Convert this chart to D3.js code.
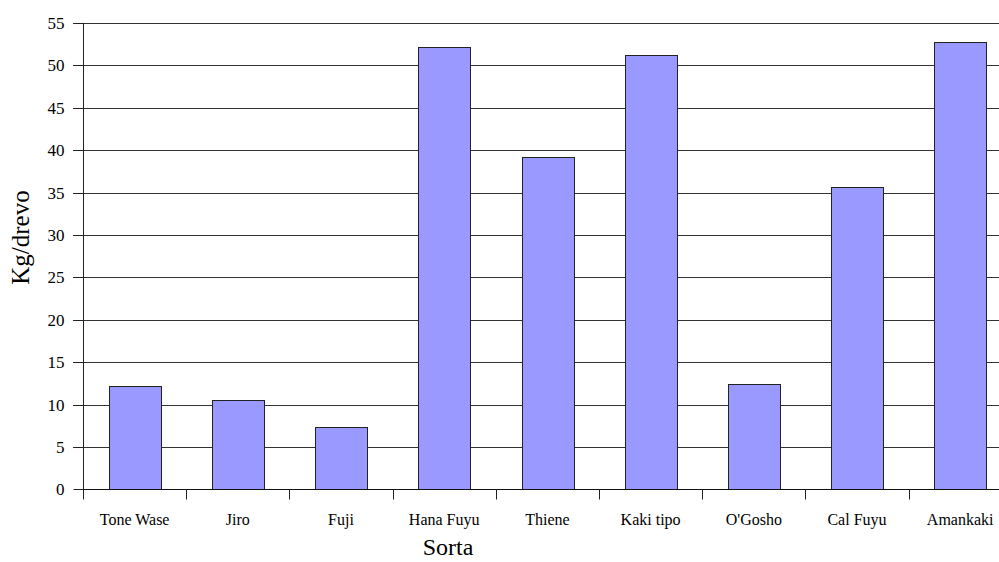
<!DOCTYPE html>
<html>
<head>
<meta charset="utf-8">
<script src="https://cdn.jsdelivr.net/npm/d3@7/dist/d3.min.js"></script>
<style>
  html, body { margin: 0; padding: 0; background: #fff; overflow: hidden; }
  svg { display: block; font-family: "Liberation Serif", "Times New Roman", serif; }
</style>
</head>
<body>
<svg id="chart" width="999" height="562"></svg>
<script>
// Yield per tree by cultivar
const categories = ["Tone Wase", "Jiro", "Fuji", "Hana Fuyu", "Thiene", "Kaki tipo", "O'Gosho", "Cal Fuyu", "Amankaki"];
const values = [12.2, 10.5, 7.4, 52.2, 39.2, 51.2, 12.4, 35.7, 52.7];
const yTicks = [0, 5, 10, 15, 20, 25, 30, 35, 40, 45, 50, 55];
const yTitle = "Kg/drevo";
const xTitle = "Sorta";

const svg = d3.select("#chart");
const plotLeft = 83, plotTop = 22.9, plotBottom = 489.3;
const plotRight = 83 + 9 * 103.2;

const x = d3.scaleBand().domain(categories).range([plotLeft, plotRight]).paddingInner(0.5).paddingOuter(0.25);
const y = d3.scaleLinear().domain([0, 55]).range([plotBottom, plotTop]);

// horizontal gridlines (extend slightly left as tick marks)
svg.append("g")
  .selectAll("line")
  .data(yTicks.filter(d => d > 0))
  .join("line")
  .attr("x1", plotLeft - 10).attr("x2", plotRight)
  .attr("y1", d => Math.round(y(d)) + 0.5).attr("y2", d => Math.round(y(d)) + 0.5)
  .attr("stroke", "#333").attr("stroke-width", 1);

// bars
svg.append("g")
  .selectAll("rect")
  .data(values)
  .join("rect")
  .attr("x", (d, i) => Math.round(x(categories[i])) + 0.5)
  .attr("width", Math.round(x.bandwidth()))
  .attr("y", d => Math.round(y(d)) + 0.5)
  .attr("height", d => Math.round(y(0)) - Math.round(y(d)))
  .attr("fill", "#9999FF")
  .attr("stroke", "#222").attr("stroke-width", 1);

// y axis
const yAxis = d3.axisLeft(y).tickValues(yTicks).tickSize(10).tickPadding(9).tickFormat(d3.format("d"));
const gy = svg.append("g").attr("transform", `translate(${plotLeft + 0.5},0)`).call(yAxis);
gy.attr("font-family", "Liberation Serif");
gy.select(".domain").attr("d", `M0,${plotTop}V${plotBottom}`).attr("stroke", "#222");
gy.selectAll(".tick line").attr("stroke", "#222");
gy.selectAll(".tick text").attr("font-family", "Liberation Serif").attr("font-size", 17).attr("fill", "#000");
gy.selectAll(".tick").attr("transform", d => `translate(0,${Math.round(y(d)) + 0.5})`);

// x axis baseline and category separators
const xBase = Math.round(y(0)) + 0.5;
svg.append("line").attr("x1", plotLeft).attr("x2", plotRight).attr("y1", xBase).attr("y2", xBase).attr("stroke", "#111");
svg.append("g")
  .selectAll("line")
  .data(d3.range(categories.length + 1))
  .join("line")
  .attr("x1", i => Math.round(plotLeft + i * x.step()) + 0.5)
  .attr("x2", i => Math.round(plotLeft + i * x.step()) + 0.5)
  .attr("y1", xBase).attr("y2", xBase + 10)
  .attr("stroke", "#222");

svg.append("g")
  .selectAll("text")
  .data(categories)
  .join("text")
  .attr("x", d => x(d) + x.bandwidth() / 2)
  .attr("y", 525)
  .attr("text-anchor", "middle")
  .attr("font-size", 16)
  .text(d => d);

// axis titles
svg.append("text")
  .attr("x", 448).attr("y", 555)
  .attr("text-anchor", "middle")
  .attr("font-size", 24)
  .text(xTitle);

svg.append("text")
  .attr("transform", "translate(29,237.5) rotate(-90)")
  .attr("text-anchor", "middle")
  .attr("font-size", 25)
  .text(yTitle);
</script>
</body>
</html>
